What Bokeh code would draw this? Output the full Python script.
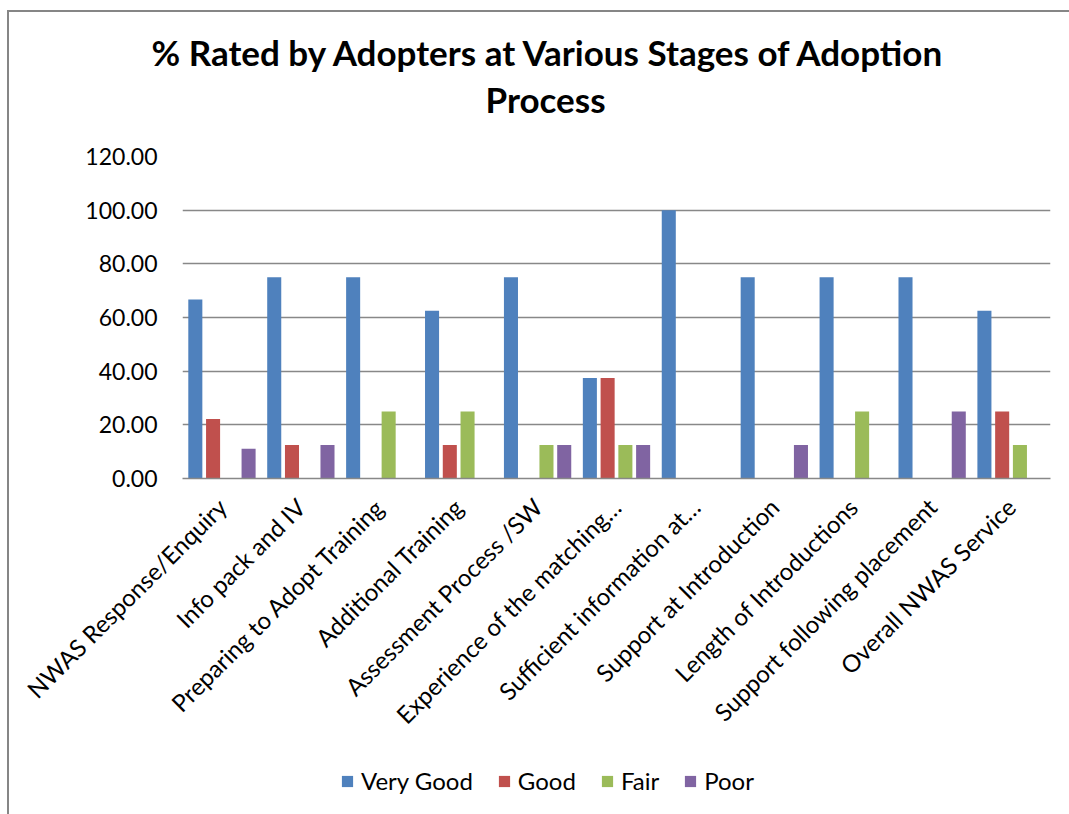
from math import pi
from bokeh.plotting import figure
from bokeh.layouts import column
from bokeh.models import (FactorRange, Range1d, NumeralTickFormatter, Legend, LegendItem,
                          Title, FixedTicker)
from bokeh.transform import dodge
from bokeh.embed import file_html
from bokeh.resources import INLINE

categories = [
    "NWAS Response/Enquiry",
    "Info pack and IV",
    "Preparing to Adopt Training",
    "Additional Training",
    "Assessment Process /SW",
    "Experience of the matching…",
    "Sufficient information at…",
    "Support at Introduction",
    "Length of Introductions",
    "Support following placement",
    "Overall NWAS Service",
]
very_good = [66.67, 75.0, 75.0, 62.5, 75.0, 37.5, 100.0, 75.0, 75.0, 75.0, 62.5]
good = [22.22, 12.5, 0.0, 12.5, 0.0, 37.5, 0.0, 0.0, 0.0, 0.0, 25.0]
fair = [0.0, 0.0, 25.0, 25.0, 12.5, 12.5, 0.0, 0.0, 25.0, 0.0, 12.5]
poor = [11.11, 12.5, 0.0, 0.0, 12.5, 12.5, 0.0, 12.5, 0.0, 25.0, 0.0]
series_names = ["Very Good", "Good", "Fair", "Poor"]
y_ticks = [0, 20, 40, 60, 80, 100, 120]

colors = ["#4F81BD", "#C0504D", "#9BBB59", "#8064A2"]
FONT = "Lato"
BORDER = "#868686"

p = figure(
    x_range=FactorRange(factors=categories, range_padding=0),
    y_range=(0, 120),
    frame_width=868, frame_height=322,
    min_border_left=182, min_border_right=19, min_border_top=156, min_border_bottom=282,
    output_backend="svg", toolbar_location=None,
    background_fill_color="white", border_fill_alpha=0,
)
p.outline_line_color = None
p.styles = {
    "background": f"linear-gradient({BORDER},{BORDER}) 7px 10px / 2px 100% no-repeat, "
                  f"linear-gradient({BORDER},{BORDER}) 7px 10px / 100% 2px no-repeat, white",
}

data = dict(cat=categories, vg=very_good, g=good, f=fair, pr=poor)
keys = ["vg", "g", "f", "pr"]
offsets = [-0.3375, -0.1125, 0.1125, 0.3375]
for k, off, c in zip(keys, offsets, colors):
    p.vbar(x=dodge("cat", off, range=p.x_range), top=k, width=0.178, source=data,
           fill_color=c, line_color=None)

p.xgrid.grid_line_color = None
p.ygrid.grid_line_color = "#888888"
p.ygrid.grid_line_width = 1.5
p.yaxis.ticker = FixedTicker(ticks=y_ticks)
p.yaxis.formatter = NumeralTickFormatter(format="0.00")
p.yaxis.axis_line_color = None
p.yaxis.major_tick_line_color = None
p.yaxis.minor_tick_line_color = None
p.yaxis.major_label_standoff = 19
p.yaxis.major_label_text_font = FONT
p.yaxis.major_label_text_font_size = "23px"
p.yaxis.major_label_text_color = "black"

p.xaxis.axis_line_color = "#888888"
p.xaxis.axis_line_width = 1.5
p.xaxis.major_tick_line_color = None
p.xaxis.minor_tick_line_color = None
p.xaxis.major_label_orientation = pi / 4
p.xaxis.major_label_standoff = 18
p.xaxis.major_label_text_font = FONT
p.xaxis.major_label_text_font_size = "24px"
p.xaxis.major_label_text_color = "black"

t2 = Title(text="Process", align="left", offset=303, text_font=FONT,
           text_font_style="bold", text_font_size="35px", text_color="black", standoff=74)
t1 = Title(text="% Rated by Adopters at Various Stages of Adoption", align="left", offset=-31,
           text_font=FONT, text_font_style="bold", text_font_size="35px", text_color="black",
           standoff=-68)
p.add_layout(t2, "above")
p.add_layout(t1, "above")

# legend strip below the chart (its series renderers sit outside the strip's visible range)
pl = figure(width=1069, height=54,
            x_range=FactorRange(factors=categories, range_padding=0), y_range=Range1d(200, 201),
            min_border=0, output_backend="svg", toolbar_location=None,
            background_fill_alpha=0, border_fill_alpha=0)
pl.outline_line_color = None
pl.axis.visible = False
pl.grid.visible = False
pl.styles = {"background": f"linear-gradient({BORDER},{BORDER}) 7px 0px / 2px 100% no-repeat, white"}
legend_renderers = [
    pl.vbar(x=dodge("cat", off, range=pl.x_range), top=k, width=0.178, source=data,
            fill_color=c, line_color=None)
    for k, off, c in zip(keys, offsets, colors)
]

legend = Legend(
    items=[LegendItem(label=n, renderers=[r]) for n, r in zip(series_names, legend_renderers)],
    orientation="horizontal", location=(158, 19),
    glyph_width=14, glyph_height=14, label_text_font=FONT, label_text_font_size="24px",
    label_text_color="black",
    spacing=24, label_standoff=7, border_line_color=None, background_fill_alpha=0,
    padding=0, margin=0,
)
pl.add_layout(legend, "center")

open("out.html", "w").write(file_html(column(p, pl, spacing=0), INLINE))
